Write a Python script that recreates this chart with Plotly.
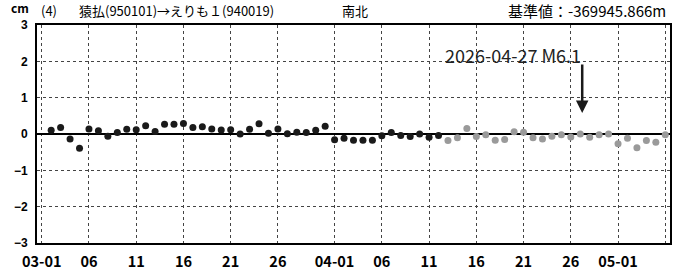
import pandas as pd
import plotly.graph_objects as go

# ---- data ----
black_dates = pd.date_range("2026-03-02", "2026-04-12", freq="D")
black_vals = [0.10, 0.18, -0.14, -0.39, 0.14, 0.09, -0.06, 0.04, 0.13, 0.12,
              0.23, 0.07, 0.27, 0.27, 0.29, 0.18, 0.20, 0.14, 0.11, 0.12,
              0.00, 0.13, 0.28, 0.02, 0.14, 0.01, 0.05, 0.04, 0.10, 0.21,
              -0.16, -0.12, -0.17, -0.17, -0.17, -0.05, 0.04, -0.04, -0.07, 0.00,
              -0.09, -0.04]
gray_dates = pd.date_range("2026-04-13", "2026-05-06", freq="D")
gray_vals = [-0.18, -0.10, 0.15, -0.07, -0.02, -0.17, -0.15, 0.06, 0.05, -0.10,
             -0.14, -0.06, -0.02, -0.08, 0.00, -0.09, -0.02, 0.00, -0.27, -0.12,
             -0.38, -0.18, -0.23, -0.02]

tick_dates = ["2026-03-01", "2026-03-06", "2026-03-11", "2026-03-16", "2026-03-21",
              "2026-03-26", "2026-04-01", "2026-04-06", "2026-04-11", "2026-04-16",
              "2026-04-21", "2026-04-26", "2026-05-01", "2026-05-06"]
tick_text = ["03-01", "06", "11", "16", "21", "26", "04-01", "06", "11", "16",
             "21", "26", "05-01", ""]
y_ticks = [-3, -2, -1, 0, 1, 2, 3]

quake_date = "2026-04-27 05:00"
quake_label = "2026-04-27 M6.1"
title_no = "(4)"
title_main = "猿払(950101)→えりも１(940019)"
title_dir = "南北"
base_text = "基準値：-369945.866m"
unit = "cm"

CJK = "Noto Sans CJK JP"
NARROW = "Liberation Sans Narrow, Noto Sans CJK JP"
SANS = "Liberation Sans, Noto Sans CJK JP"

fig = go.Figure()
fig.add_trace(go.Scatter(x=black_dates, y=black_vals, mode="markers",
                         marker=dict(color="#1a1a1a", size=7), showlegend=False))
fig.add_trace(go.Scatter(x=gray_dates, y=gray_vals, mode="markers",
                         marker=dict(color="#9a9a9a", size=7), showlegend=False))

L, R, T, B = 37, 18, 25, 28
W, H = 688, 271
pw, ph = W - L - R, H - T - B

def px(x):
    return (x - L) / pw

def py(y):
    return (H - B - y) / ph

annos = [
    dict(text=unit, x=px(20), y=py(7), xanchor="center", yanchor="middle",
         font=dict(size=12, color="black", family=CJK, weight="bold")),
    dict(text=title_no, x=px(39), y=py(11), xanchor="left", yanchor="middle",
         font=dict(size=13, color="black", family=NARROW)),
    dict(text=title_main, x=px(77), y=py(11), xanchor="left", yanchor="middle",
         font=dict(size=13, color="black", family=NARROW)),
    dict(text=title_dir, x=px(340), y=py(11), xanchor="left", yanchor="middle",
         font=dict(size=13, color="black", family=CJK)),
    dict(text=base_text, x=px(668), y=py(11), xanchor="right", yanchor="middle",
         font=dict(size=15, color="black", family=CJK)),
]
for a in annos:
    a.update(xref="paper", yref="paper", showarrow=False)

fig.update_layout(
    width=W, height=H,
    margin=dict(l=L, r=R, t=T, b=B, autoexpand=False),
    paper_bgcolor="white", plot_bgcolor="white",
    font=dict(family=CJK, color="black", size=12),
    annotations=annos,
)
fig.add_annotation(x=quake_date, y=0.58, xref="x", yref="y", ax=0, ay=-50,
                   showarrow=True, arrowhead=2, arrowsize=1, arrowwidth=2.5,
                   arrowcolor="#1a1a1a", text="")
fig.add_annotation(x="2026-04-19 22:00", y=2.18, xref="x", yref="y",
                   text=quake_label, showarrow=False,
                   font=dict(size=18, color="#222", family=CJK))

fig.update_xaxes(type="date", range=["2026-02-28 12:00", "2026-05-06 12:00"],
                 tickvals=tick_dates, ticktext=tick_text,
                 showgrid=True, gridcolor="#444", griddash="dot", gridwidth=1,
                 showline=True, linecolor="black", linewidth=2, mirror=True,
                 ticks="", tickfont=dict(size=14.5, family=NARROW, weight="bold"),
                 ticklabelstandoff=5, zeroline=False, automargin=False)
fig.update_yaxes(range=[-3, 3], tickvals=y_ticks,
                 showgrid=True, gridcolor="#444", griddash="dot", gridwidth=1,
                 showline=True, linecolor="black", linewidth=2, mirror=True,
                 zeroline=True, zerolinecolor="black", zerolinewidth=1.5,
                 ticks="", tickfont=dict(size=12, family=SANS, weight="bold"),
                 ticklabelstandoff=5, automargin=False)

fig.write_html("out.html", config={"displayModeBar": False},
               post_script="document.body.style.margin='0';document.body.style.padding='0';")
